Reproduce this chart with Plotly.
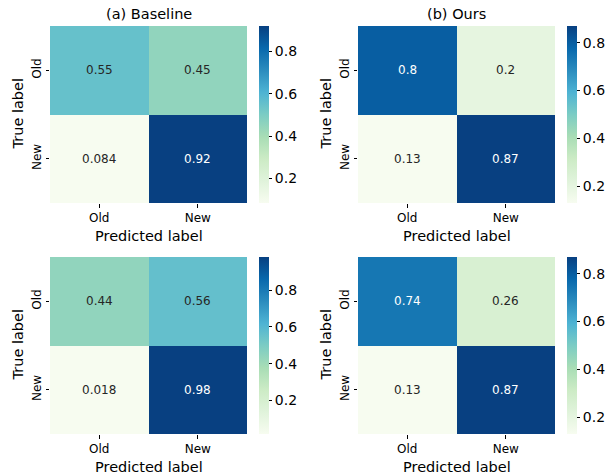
import plotly.graph_objects as go

# ---- data ----
labels = ["Old", "New"]
baseline_top = [[0.55, 0.45], [0.084, 0.92]]
ours_top = [[0.8, 0.2], [0.13, 0.87]]
baseline_bottom = [[0.44, 0.56], [0.018, 0.98]]
ours_bottom = [[0.74, 0.26], [0.13, 0.87]]
titles = ["(a) Baseline", "(b) Ours"]
cbar_ticks = [0.2, 0.4, 0.6, 0.8]

# ---- style ----
W, H = 611, 474
FONT = "DejaVu Sans"
gnbu = [(247, 252, 240), (224, 243, 219), (204, 235, 197), (168, 221, 181),
        (123, 204, 196), (78, 179, 211), (43, 140, 190), (8, 104, 172), (8, 64, 129)]
colorscale = [[i / (len(gnbu) - 1), "rgb(%d,%d,%d)" % c] for i, c in enumerate(gnbu)]


def interp_color(t):
    t = min(max(t, 0.0), 1.0)
    pos = t * (len(gnbu) - 1)
    i = min(int(pos), len(gnbu) - 2)
    f = pos - i
    return [gnbu[i][k] + (gnbu[i + 1][k] - gnbu[i][k]) * f for k in range(3)]


def luminance(rgb):
    def lin(c):
        c = c / 255.0
        return c / 12.92 if c <= 0.03928 else ((c + 0.055) / 1.055) ** 2.4
    r, g, b = (lin(c) for c in rgb)
    return 0.2126 * r + 0.7152 * g + 0.0722 * b


def px_x(p):
    return p / W


def px_y(p):
    return 1 - p / H


panels = [
    (baseline_top, 0, 0),
    (ours_top, 0, 1),
    (baseline_bottom, 1, 0),
    (ours_bottom, 1, 1),
]
col_x = [(50, 247), (358, 555)]
row_y = [(26, 203), (257, 434)]
cb_x = [259, 567]

fig = go.Figure()
annotations = []
layout = {}

for idx, (z, r, c) in enumerate(panels):
    n = idx + 1
    xa = "x" if n == 1 else "x%d" % n
    ya = "y" if n == 1 else "y%d" % n
    x0, x1 = col_x[c]
    y0, y1 = row_y[r]
    zmin = min(min(row) for row in z)
    zmax = max(max(row) for row in z)
    fig.add_trace(go.Heatmap(
        z=z, x=labels, y=labels, xaxis=xa, yaxis=ya,
        colorscale=colorscale, zmin=zmin, zmax=zmax,
        showscale=True, hoverinfo="skip",
        colorbar=dict(
            x=px_x(cb_x[c]), xanchor="left", xref="paper",
            y=px_y((y0 + y1) / 2), yanchor="middle", yref="paper",
            thickness=9.5, thicknessmode="pixels",
            len=y1 - y0, lenmode="pixels",
            xpad=0, ypad=0, outlinewidth=0,
            tickmode="array", tickvals=cbar_ticks,
            ticktext=["%.1f" % v for v in cbar_ticks],
            ticks="outside", ticklen=3.5, tickwidth=0.8, tickcolor="black",
            tickfont=dict(family=FONT, size=14, color="black"),
        ),
    ))
    layout["xaxis" if n == 1 else "xaxis%d" % n] = dict(
        domain=[px_x(x0), px_x(x1)], anchor=ya,
        type="category", showgrid=False, zeroline=False, showline=False,
        ticks="outside", ticklen=3.5, tickwidth=0.8, tickcolor="black",
        tickfont=dict(family=FONT, size=12, color="black"),
        fixedrange=True,
    )
    layout["yaxis" if n == 1 else "yaxis%d" % n] = dict(
        domain=[px_y(y1), px_y(y0)], anchor=xa,
        type="category", autorange="reversed",
        showgrid=False, zeroline=False, showline=False,
        ticks="outside", ticklen=3.5, tickwidth=0.8, tickcolor="black",
        tickangle=-90,
        tickfont=dict(family=FONT, size=12, color="black"),
        fixedrange=True,
    )
    # cell annotations
    for i, lab_y in enumerate(labels):
        for j, lab_x in enumerate(labels):
            v = z[i][j]
            rgb = interp_color((v - zmin) / (zmax - zmin))
            col = "#262626" if luminance(rgb) > 0.408 else "white"
            annotations.append(dict(
                x=lab_x, y=lab_y, xref=xa, yref=ya, text=f"{v:.2g}",
                showarrow=False, font=dict(family=FONT, size=12, color=col),
            ))
    # axis labels
    annotations.append(dict(
        x=px_x((x0 + x1) / 2), y=px_y(y1 + 33), xref="paper", yref="paper",
        text="Predicted label", showarrow=False, xanchor="center", yanchor="middle",
        font=dict(family=FONT, size=14.5, color="black"),
    ))
    annotations.append(dict(
        x=px_x(x0 - 33), y=px_y((y0 + y1) / 2), xref="paper", yref="paper",
        text="True label", showarrow=False, textangle=-90,
        xanchor="center", yanchor="middle",
        font=dict(family=FONT, size=14.5, color="black"),
    ))
    if r == 0:
        annotations.append(dict(
            x=px_x((x0 + x1) / 2), y=px_y(14), xref="paper", yref="paper",
            text=titles[c], showarrow=False, xanchor="center", yanchor="middle",
            font=dict(family=FONT, size=14.5, color="black"),
        ))

fig.update_layout(
    width=W, height=H,
    margin=dict(l=0, r=0, t=0, b=0, autoexpand=False),
    paper_bgcolor="white", plot_bgcolor="white",
    font=dict(family=FONT, color="black"),
    annotations=annotations,
    showlegend=False,
    **layout,
)

fig.write_html("out.html", config={"displayModeBar": False},
               post_script="document.body.style.margin='0px';")
